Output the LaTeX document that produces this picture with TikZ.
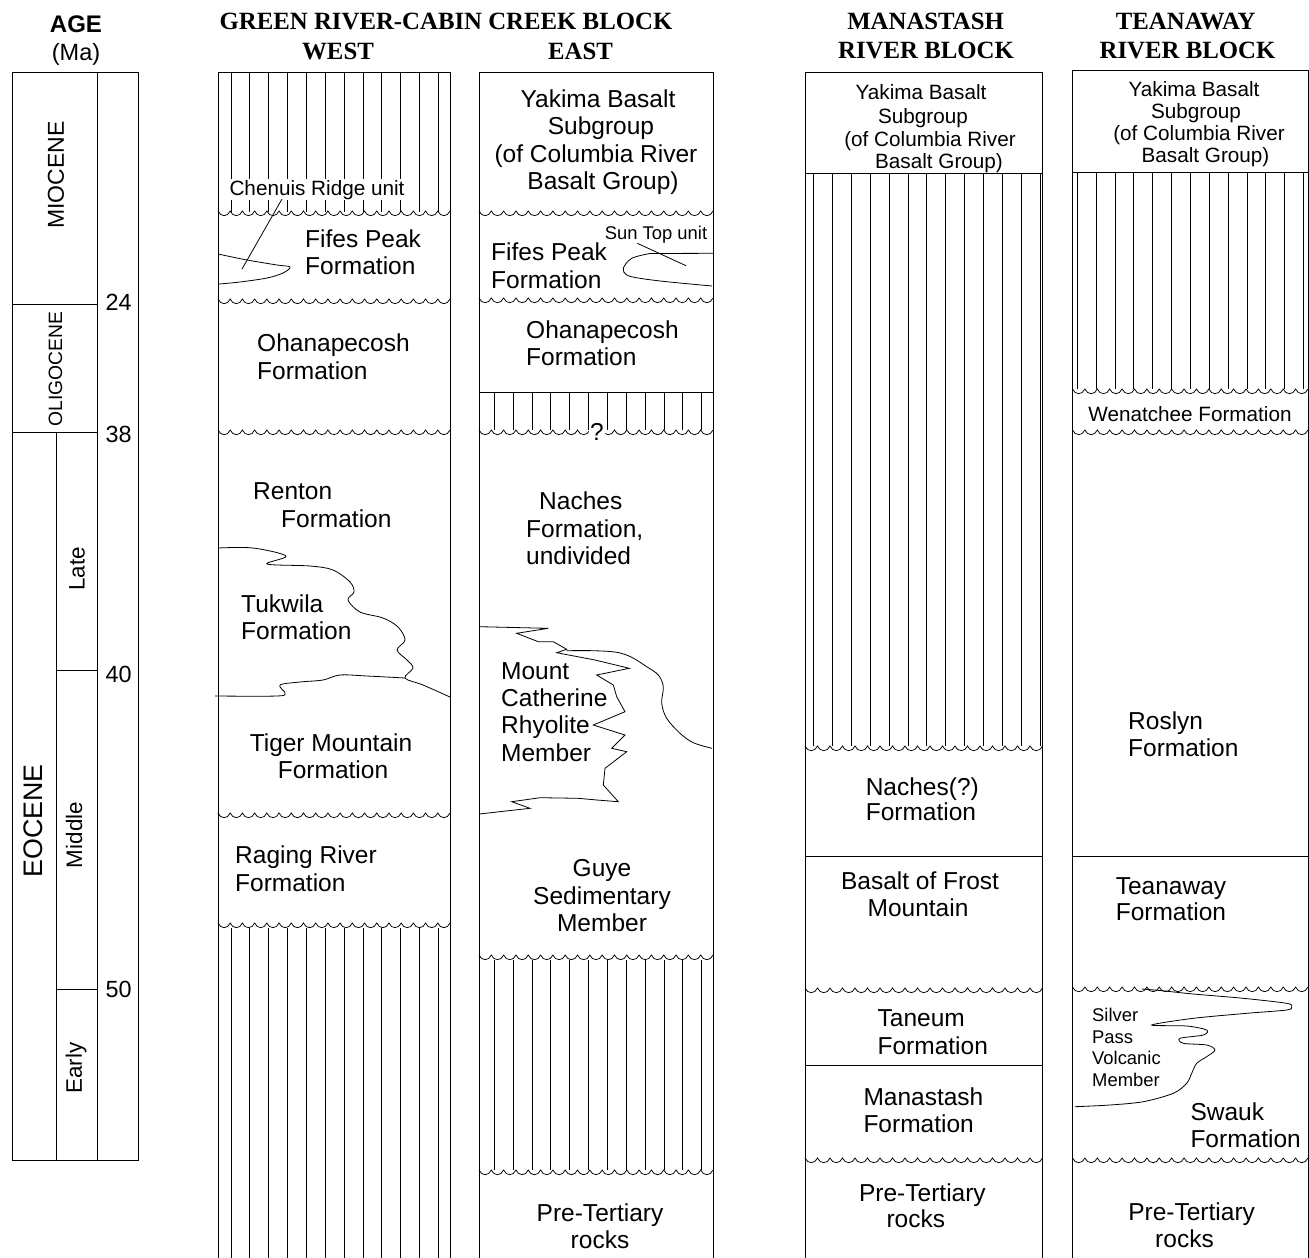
\documentclass[tikz,border=0pt]{standalone}
\usepackage{fontspec}
\setmainfont{Liberation Sans}
\newfontfamily\hdrfont{Liberation Serif}
\newcommand\fsz[1]{\fontsize{#1}{#1}\selectfont}
\newcommand\hatchlines[4]{%
  \foreach \k in {1,...,#2}{\draw[hatch] ({#1+18.85*(\k-1)},#3) -- ({#1+18.85*(\k-1)},#4);}}
\newcommand\wavyline[3]{%
  \pgfmathtruncatemacro\wn{round((#2-#1)/12.5)}%
  \pgfmathsetmacro\ww{(#2-#1)/\wn}%
  \draw[wv] (#1,#3) \foreach \i in {1,...,\wn}{ .. controls ({#1+(\i-0.8)*\ww},{#3+6.2}) and ({#1+(\i-0.2)*\ww},{#3+6.2}) .. ({#1+\i*\ww},#3)};}
\tikzset{
  big/.style={font=\fsz{24.5}, inner sep=0pt},
  mid/.style={font=\fsz{20.7}, inner sep=0pt},
  sml/.style={font=\fsz{18.4}, inner sep=0pt},
  hd/.style={font=\hdrfont\bfseries\fsz{24.8}, inner sep=0pt, anchor=base},
  bord/.style={line width=0.9pt},
  hatch/.style={line width=0.75pt},
  wv/.style={line width=0.75pt},
  curve/.style={line width=0.8pt},
  bw/.style={anchor=base west},
  bc/.style={anchor=base},
}
\begin{document}
\begin{tikzpicture}[x=1pt,y=-1pt]
\useasboundingbox (0,0) rectangle (1309,1258);

% ---------------- headers ----------------
\node[font=\bfseries\fsz{24}, inner sep=0pt, anchor=base] (hage) at (76,32) {AGE};
\node[font=\fsz{23.5}, inner sep=0pt, anchor=base] (hma) at (76,60) {(Ma)};
\node[hd] (hgreen) at (446,29.3) {GREEN RIVER-CABIN CREEK BLOCK};
\node[hd] (hwest) at (338,59) {WEST};
\node[hd] (heast) at (580.5,59) {EAST};
\node[hd] (hman1) at (925.6,29.7) {MANASTASH};
\node[hd] (hman2) at (926,58) {RIVER BLOCK};
\node[hd] (htea1) at (1185.7,29.7) {TEANAWAY};
\node[hd] (htea2) at (1187.5,58) {RIVER BLOCK};

% ---------------- age column ----------------
\draw[bord] (12,72) rectangle (138,1160);
\draw[bord] (97,72) -- (97,1160);
\draw[bord] (56,432) -- (56,1160);
\draw[bord] (12,304) -- (97,304);
\draw[bord] (12,432) -- (97,432);
\draw[bord] (56,670) -- (97,670);
\draw[bord] (56,989) -- (97,989);
\node[font=\fsz{23.4}, inner sep=0pt, bw] (a24) at (105.5,310) {24};
\node[font=\fsz{23.4}, inner sep=0pt, bw] (a38) at (105.5,442) {38};
\node[font=\fsz{23.4}, inner sep=0pt, bw] (a40) at (105.5,682) {40};
\node[font=\fsz{23.4}, inner sep=0pt, bw] (a50) at (105.5,997) {50};
\node[font=\fsz{23}, inner sep=0pt, rotate=90] (mio) at (56,175) {MIOCENE};
\node[font=\fsz{19.3}, inner sep=0pt, rotate=90] (oli) at (55.5,369) {OLIGOCENE};
\node[font=\fsz{26.8}, inner sep=0pt, rotate=90] (eoc) at (33,821) {EOCENE};
\node[font=\fsz{22.4}, inner sep=0pt, rotate=90] (late) at (77,569) {Late};
\node[font=\fsz{22.4}, inner sep=0pt, rotate=90] (midd) at (74,835) {Middle};
\node[font=\fsz{22.4}, inner sep=0pt, rotate=90] (early) at (76,1068) {Early};

% ---------------- WEST column ----------------
\hatchlines{231}{12}{72}{212}
\hatchlines{231}{12}{928}{1258}
\wavyline{218}{450}{211}
\wavyline{218}{450}{299}
\wavyline{218}{450}{430}
\wavyline{218}{450}{813}
\wavyline{218}{450}{923}
\draw[bord] (218,1258) -- (218,72) -- (450,72) -- (450,1258);
% Chenuis Ridge tongue
\draw[curve] plot[smooth,tension=0.55] coordinates {(218,254) (247,260) (277,265) (290,267) (283,273) (267,278) (240,282) (219,284)};
\node[mid, fill=white, inner sep=1pt, bc] (chen) at (317,195) {Chenuis Ridge unit};
\draw[curve] (282,199) -- (242,269);
% Tukwila tongue
\draw[curve] plot[smooth,tension=0.55] coordinates {(218,548) (253,548) (286,556) (267,564) (310,566) (333,570) (350,582) (354,592) (348,600) (360,612) (383,618) (398,627) (405,640) (397,650) (407,660) (413,668) (405,678) (423,685) (450,697)};
\draw[curve] plot[smooth,tension=0.55] coordinates {(405,678) (367,676) (340,675) (323,680) (300,682) (280,685) (285,693) (277,696) (215,696)};
\node[big,bw] (w1) at (305,247) {Fifes Peak};
\node[big,bw] (w2) at (305,274) {Formation};
\node[big,bw] (w3) at (257,351) {Ohanapecosh};
\node[big,bw] (w4) at (257,379) {Formation};
\node[big,bw] (w5) at (253,499) {Renton};
\node[big,bw] (w6) at (281,527) {Formation};
\node[big,bw] (w7) at (241,612) {Tukwila};
\node[big,bw] (w8) at (241,639) {Formation};
\node[big,bc] (w9) at (331,751) {Tiger Mountain};
\node[big,bc] (w10) at (333,778) {Formation};
\node[big,bw] (w11) at (235,863) {Raging River};
\node[big,bw] (w12) at (235,891) {Formation};

% ---------------- EAST column ----------------
\hatchlines{494.3}{12}{392}{430}
\hatchlines{494.3}{12}{960}{1170}
\wavyline{479}{713}{211}
\wavyline{479}{713}{298}
\wavyline{479}{713}{430}
\wavyline{479}{713}{955}
\wavyline{479}{713}{1170}
\draw[bord] (479,392) -- (713,392);
\draw[bord] (479,1258) -- (479,72) -- (713,72) -- (713,1258);
\node[big, fill=white, inner sep=1pt, bc] (qm) at (597,440) {?};
\node[big,bc] (e1) at (598,107) {Yakima Basalt};
\node[big,bc] (e2) at (601,134) {Subgroup};
\node[big,bc] (e3) at (596,162) {(of Columbia River};
\node[big,bc] (e4) at (603,189) {Basalt Group)};
% Sun Top tongue
\draw[curve] (713,253.3) -- (650,253.5);
\draw[curve] plot[smooth,tension=0.55] coordinates {(650,253.5) (631.7,258.3) (623.3,268.3) (626.7,275) (640,278.3) (666.7,281.7) (712,286)};
\node[sml,bc] (sun) at (656,239) {Sun Top unit};
\draw[curve] (637.3,243.3) -- (686,265.7);
\node[big,bw] (e5) at (491,260) {Fifes Peak};
\node[big,bw] (e6) at (491,288) {Formation};
\node[big,bw] (e7) at (526,338) {Ohanapecosh};
\node[big,bw] (e8) at (526,365) {Formation};
\node[big,bw] (e9) at (539,509) {Naches};
\node[big,bw] (e10) at (526,537) {Formation,};
\node[big,bw] (e11) at (526,564) {undivided};
% Mount Catherine tongue
\draw[curve] (479.3,626.7) -- (548.3,628.3) -- (516.7,633.3) -- (538.3,641.7) -- (553.3,641.7) -- (566.7,649.3) -- (556.7,652.7) -- (595,660) -- (629.3,668.3) -- (596.7,675) -- (613.3,685) -- (616.7,696.7) -- (625,711.7) -- (593.3,725) -- (625,735) -- (611.7,748.3) -- (626.7,751.7) -- (605,768.3) -- (603.3,785) -- (618.3,801.7) -- (596.7,800) -- (578.3,798.3) -- (540,797.7) -- (511.7,801.7) -- (530,808.3) -- (479.3,814);
\draw[curve] plot[smooth,tension=0.55] coordinates {(566.7,650.7) (593.3,650.7) (616.7,652.3) (631.7,657.3) (646.7,666.7) (658.3,675) (663.3,686.7) (661.7,703.3) (666.7,718.3) (680,733.3) (693.3,742.7) (712,748.3)};
\node[big,bw] (e12) at (501,679) {Mount};
\node[big,bw] (e13) at (501,706) {Catherine};
\node[big,bw] (e14) at (501,733) {Rhyolite};
\node[big,bw] (e15) at (501,761) {Member};
\node[big,bc] (e16) at (602,876) {Guye};
\node[big,bc] (e17) at (602,904) {Sedimentary};
\node[big,bc] (e18) at (602,931.5) {Member};
\node[big,bc] (e19) at (600,1221.7) {Pre-Tertiary};
\node[big,bc] (e20) at (600,1248.3) {rocks};

% ---------------- MANASTASH column ----------------
\hatchlines{813.7}{13}{173}{746}
\wavyline{805}{1042.5}{746}
\wavyline{805}{1042.5}{988}
\wavyline{805}{1042.5}{1158}
\draw[bord] (805,173) -- (1042.5,173);
\draw[bord] (805,856) -- (1042.5,856);
\draw[bord] (805,1065) -- (1042.5,1065);
\draw[bord] (805,1258) -- (805,72) -- (1042.5,72) -- (1042.5,1258);
\node[mid,bc] (m1) at (921,99.5) {Yakima Basalt};
\node[mid,bc] (m2) at (923,123) {Subgroup};
\node[mid,bc] (m3) at (930,146) {(of Columbia River};
\node[mid,bc] (m4) at (939,168.5) {Basalt Group)};
\node[big,bw] (m5) at (865.6,795) {Naches(?)};
\node[big,bw] (m6) at (865.6,820) {Formation};
\node[big,bc] (m7) at (920,889) {Basalt of Frost};
\node[big,bc] (m8) at (918,916) {Mountain};
\node[big,bw] (m9) at (877.4,1026) {Taneum};
\node[big,bw] (m10) at (877.4,1054) {Formation};
\node[big,bw] (m11) at (863.3,1105) {Manastash};
\node[big,bw] (m12) at (863.3,1132) {Formation};
\node[big,bc] (m13) at (922.4,1201) {Pre-Tertiary};
\node[big,bc] (m14) at (915.8,1227.5) {rocks};

% ---------------- TEANAWAY column ----------------
\hatchlines{1077.3}{13}{172}{389}
\wavyline{1072.5}{1308}{389}
\wavyline{1072.5}{1308}{430}
\wavyline{1072.5}{1308}{987}
\wavyline{1072.5}{1308}{1158}
\draw[bord] (1072.5,172) -- (1308,172);
\draw[bord] (1072.5,856) -- (1308,856);
\draw[bord] (1072.5,1258) -- (1072.5,70) -- (1308,70) -- (1308,1258);
\node[mid,bc] (t1) at (1194,96) {Yakima Basalt};
\node[mid,bc] (t2) at (1196,118) {Subgroup};
\node[mid,bc] (t3) at (1199,140) {(of Columbia River};
\node[mid,bc] (t4) at (1205.5,162) {Basalt Group)};
\node[mid,bc] (t5) at (1190,421) {Wenatchee Formation};
\node[big,bw] (t6) at (1128,729) {Roslyn};
\node[big,bw] (t7) at (1128,756) {Formation};
\node[big,bw] (t8) at (1115.6,894) {Teanaway};
\node[big,bw] (t9) at (1115.6,920) {Formation};
% Silver Pass tongue
\draw[curve] plot[smooth,tension=0.5] coordinates {(1141.7,989) (1160,990.5) (1193.3,994) (1243.3,998.3) (1286.7,1003.3) (1291.7,1006.7) (1286.7,1010) (1246.7,1013.3) (1193.3,1018.3) (1151.7,1025) (1186.7,1026) (1206.7,1030) (1203.3,1035) (1180,1038.3) (1183.3,1043.3) (1206.7,1045) (1215,1050) (1206.7,1056.7) (1196.7,1063.3) (1191.7,1073.3) (1186.7,1083.3) (1173.3,1093.3) (1143.3,1101.7) (1110,1105) (1075,1106.7)};
\node[sml,bw] (t10) at (1092,1021.6) {Silver};
\node[sml,bw] (t11) at (1092,1043) {Pass};
\node[sml,bw] (t12) at (1092,1064) {Volcanic};
\node[sml,bw] (t13) at (1092,1086) {Member};
\node[big,bw] (t14) at (1190.3,1120) {Swauk};
\node[big,bw] (t15) at (1190.3,1147.6) {Formation};
\node[big,bc] (t16) at (1191.6,1220) {Pre-Tertiary};
\node[big,bc] (t17) at (1184.5,1247.6) {rocks};
\end{tikzpicture}
\end{document}
